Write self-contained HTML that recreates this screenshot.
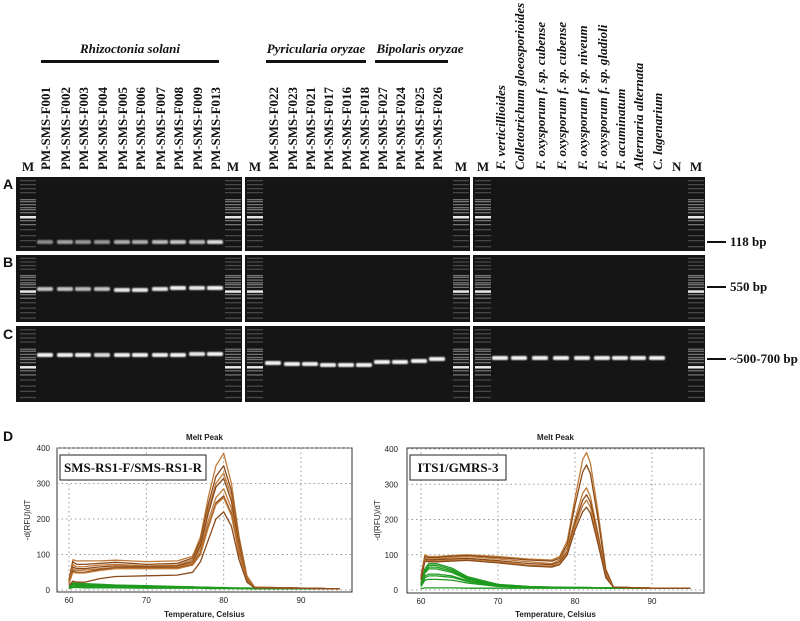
<!DOCTYPE html>
<html><head><meta charset="utf-8"><style>
body{margin:0;background:#fff;width:800px;height:621px;overflow:hidden}
svg{display:block}
.lab{font-family:"Liberation Serif",serif;font-weight:bold;font-size:13px;fill:#111}
.it{font-style:italic}
.row{font-family:"Liberation Sans",sans-serif;font-weight:bold;font-size:14px;fill:#111}
.tk{font-family:"Liberation Sans",sans-serif;font-size:8px;fill:#222}
.tt{font-family:"Liberation Sans",sans-serif;font-size:8px;font-weight:bold;fill:#222}
</style></head><body>
<svg id="fig" width="800" height="621" viewBox="0 0 800 621" xmlns="http://www.w3.org/2000/svg">
<defs><filter id="bl" x="-30%" y="-100%" width="160%" height="300%"><feGaussianBlur stdDeviation="0.7"/></filter></defs>
<g id="gels"></g>
<g id="labels"></g>
<g>
<text class="lab it" x="130" y="53" text-anchor="middle" font-size="14">Rhizoctonia solani</text>
<rect x="41" y="60" width="178" height="3" fill="#111"/>
<text class="lab it" x="316" y="53" text-anchor="middle" font-size="14">Pyricularia oryzae</text>
<rect x="266" y="60" width="100" height="3" fill="#111"/>
<text class="lab it" x="420" y="53" text-anchor="middle" font-size="14">Bipolaris oryzae</text>
<rect x="375" y="60" width="73" height="3" fill="#111"/>
</g>
<g>
<text class="row" x="3" y="189">A</text><text class="row" x="3" y="267">B</text><text class="row" x="3" y="339">C</text><text class="row" x="3" y="441">D</text>
</g>
<g>
<rect x="707" y="241" width="19" height="2" fill="#111"/><text class="lab" x="730" y="246">118 bp</text>
<rect x="707" y="286" width="19" height="2" fill="#111"/><text class="lab" x="730" y="291">550 bp</text>
<rect x="707" y="358" width="19" height="2" fill="#111"/><text class="lab" x="730" y="363">~500-700 bp</text>
</g>
<g id="plots"></g>
</svg>
<script>
const NS="http://www.w3.org/2000/svg";
function mk(tag,attrs,parent){const e=document.createElementNS(NS,tag);for(const k in attrs)e.setAttribute(k,attrs[k]);parent.appendChild(e);return e;}
/* ---------- Gel data ---------- */
const panelX=[[16,242],[245,470],[473,705]];
const rowY=[[177,251],[255,322],[326,402]];
const markerLanes=[28,233,255,461,483,696];
const laneNames=["PM-SMS-F001","PM-SMS-F002","PM-SMS-F003","PM-SMS-F004","PM-SMS-F005","PM-SMS-F006","PM-SMS-F007","PM-SMS-F008","PM-SMS-F009","PM-SMS-F013","PM-SMS-F022","PM-SMS-F023","PM-SMS-F021","PM-SMS-F017","PM-SMS-F016","PM-SMS-F018","PM-SMS-F027","PM-SMS-F024","PM-SMS-F025","PM-SMS-F026","F. verticillioides","Colletotrichum gloeosporioides","F. oxysporum f. sp. cubense","F. oxysporum f. sp. cubense","F. oxysporum f. sp. niveum","F. oxysporum f. sp. gladioli","F. acuminatum","Alternaria alternata","C. lagenarium","N"];
const laneX=[45,65,83,102,122,140,160,178,197,215,273,292,310,328,346,364,382,400,419,437,500,519,540,561,582,602,620,638,657,677];
const bandA=[0.5,0.6,0.55,0.55,0.65,0.65,0.7,0.75,0.7,0.85,0,0,0,0,0,0,0,0,0,0,0,0,0,0,0,0,0,0,0,0];
const bandB=[0.75,0.75,0.7,0.75,0.9,0.9,0.9,0.95,0.9,0.95,0,0,0,0,0,0,0,0,0,0,0,0,0,0,0,0,0,0,0,0];
const bandC=[0.95,0.95,0.95,0.85,0.95,0.95,0.95,0.95,0.9,0.95,0.95,0.95,0.95,0.95,0.95,0.95,0.95,0.95,0.95,0.95,0.95,0.95,0.95,0.95,0.95,0.95,0.95,0.95,0.95,0];
const yA=[242,242,242,242,242,242,242,242,242,242];
const yB=[289,289,289,289,290,290,289,288,288,288];
const yC=[355,355,355,355,355,355,355,355,354,354,363,364,364,365,365,365,362,362,361,359,358,358,358,358,358,358,358,358,358,358];
const ladderOff=[3,7,11,15,22,24,27,30,32,35,39,43,47,52,58,63,69];
const G=document.getElementById('gels');
rowY.forEach((r,ri)=>{panelX.forEach((p,pi)=>{
  const rc=mk('rect',{x:p[0],y:r[0],width:p[1]-p[0],height:r[1]-r[0],fill:'#151515'},G);
  
  
});
  markerLanes.forEach(mx=>{ladderOff.forEach((o,i)=>{
    const b=mk('rect',{x:mx-8,y:r[0]+o*(r[1]-r[0])/74,width:16,height:i==10?2.5:1.3,fill:'#fff',opacity:i==10?0.9:(i>=4&&i<=12?0.4:0.22)},G);
    
    
  });});
});
function bands(arr,ys,ri){arr.forEach((v,i)=>{if(!v)return;
  const b=mk('rect',{x:laneX[i]-8,y:ys[i]-2,width:16,height:4,rx:1.5,fill:'#fff',opacity:v,filter:'url(#bl)'},G);
  
  });}
bands(bandA,yA,'a');bands(bandB,yB,'b');bands(bandC,yC,'c');
const L=document.getElementById('labels');
laneNames.forEach((n,i)=>{
  const it=i>=20&&n!=="N";
  const t=mk('text',{class:'lab'+(it?' it':''),transform:`translate(${laneX[i]+5},170) rotate(-90)`},L);
  if(n==="N"){t.setAttribute('transform',`translate(${laneX[i]-5},171)`);}
  t.textContent=n;
  
  
});
markerLanes.forEach(mx=>{const t=mk('text',{class:'lab',x:mx,y:171,'text-anchor':'middle'},L);t.textContent='M';
  
  });
/* ---------- Melt curve data ---------- */
const xTicks=[60,70,80,90];
const yTicks=[0,100,200,300,400];
const T1=[60,60.5,61,62,64,66,70,74,76,77,78,79,80,81,82,83,84,90,95];
const brown1=[
[30,85,82,82,82,84,80,82,95,150,260,350,385,300,150,40,8,5,3],
[28,80,72,72,75,78,72,75,90,140,240,320,350,280,140,35,8,5,3],
[25,72,65,66,70,72,68,70,85,130,225,300,330,265,130,35,8,5,3],
[22,65,60,60,65,68,65,68,80,125,215,290,315,250,125,30,7,5,3],
[20,60,55,56,60,64,63,65,76,115,195,260,285,230,115,30,7,5,3],
[18,55,50,50,58,62,62,62,72,105,180,245,265,215,105,28,7,5,3],
[18,50,48,48,55,60,60,60,70,100,175,240,260,210,100,25,7,5,3],
[12,25,22,22,32,38,40,42,50,80,140,200,220,180,85,22,6,5,3]];
const green1=[
[12,20,19,18,16,14,12,10,9,8,8,7,7,6,6,6,5,4,3],
[10,17,16,15,14,12,10,9,8,7,7,6,6,6,5,5,4,4,3],
[8,14,13,12,11,10,9,8,7,7,6,6,5,5,5,5,4,3,3],
[6,10,10,9,9,8,7,6,6,6,5,5,5,5,4,4,4,3,3],
[4,7,7,6,6,6,5,5,5,5,4,4,4,4,4,4,3,3,3]];
const T2=[60,60.5,61,62,64,66,70,74,77,78,79,80,81,81.5,82,83,84,85,90,95];
const brown2=[
[40,100,95,95,98,100,95,88,85,95,140,260,370,390,360,220,60,8,5,5],
[38,95,92,92,96,98,92,85,82,90,130,240,335,355,330,200,55,8,5,5],
[35,90,88,88,92,95,88,80,75,85,120,200,275,290,265,160,45,8,5,5],
[33,88,85,86,88,90,83,75,72,80,110,190,255,270,250,150,40,8,5,5],
[30,85,82,82,85,86,80,70,68,75,105,180,240,255,235,140,38,8,5,5],
[28,82,80,80,82,84,77,68,65,72,100,170,222,235,218,130,35,8,5,5]];
const green2=[
[20,60,75,75,62,38,16,10,8,8,7,7,7,7,7,6,6,6,5,5],
[20,58,70,70,58,35,15,10,8,8,7,7,7,7,7,6,6,6,5,5],
[18,52,65,65,54,32,14,9,8,7,7,7,7,7,6,6,6,6,5,5],
[16,48,60,60,50,30,13,9,7,7,7,7,7,6,6,6,6,6,5,5],
[14,40,45,45,40,26,12,8,7,7,7,6,6,6,6,6,6,6,5,5],
[12,35,40,40,36,24,11,8,7,7,6,6,6,6,6,6,6,5,5,5],
[10,28,30,30,28,20,10,8,7,6,6,6,6,6,6,6,5,5,5,5],
[4,6,6,6,6,5,5,5,5,5,5,5,5,5,5,5,5,5,5,5]];
const plots=[
 {box:[57,448,352,592],x0:69,x1:301,y0:590,y1:448,T:T1,brown:brown1,green:green1,label:'SMS-RS1-F/SMS-RS1-R',lw:146,ytx:50,name:'melt-plot-sms-rs1'},
 {box:[407,448,704,593],x0:421,x1:652,y0:590,y1:449,T:T2,brown:brown2,green:green2,label:'ITS1/GMRS-3',lw:96,ytx:398,name:'melt-plot-its1'}];
const P=document.getElementById('plots');
plots.forEach(p=>{
  const g=mk('g',{},P);
  
  
  const xs=t=>p.x0+(t-60)/30*(p.x1-p.x0);
  const ys=v=>p.y0-v/400*(p.y0-p.y1);
  const [bx0,by0,bx1,by1]=p.box;
  mk('rect',{x:bx0,y:by0,width:bx1-bx0,height:by1-by0,fill:'#fff',stroke:'#333','stroke-width':1},g);
  xTicks.forEach(t=>{mk('line',{x1:xs(t),x2:xs(t),y1:by0,y2:by1,stroke:'#999','stroke-dasharray':'1.5,3'},g);
    const tx=mk('text',{class:'tk',x:xs(t),y:by1+11,'text-anchor':'middle'},g);tx.textContent=t;
    
    });
  yTicks.forEach(v=>{mk('line',{x1:bx0,x2:bx1,y1:ys(v),y2:ys(v),stroke:'#999','stroke-dasharray':'1.5,3'},g);
    const tx=mk('text',{class:'tk',x:p.ytx,y:ys(v)+3,'text-anchor':'end'},g);tx.textContent=v;
    
    });
  const tt=mk('text',{class:'tt',x:(bx0+bx1)/2,y:440,'text-anchor':'middle'},g);tt.textContent='Melt Peak';
  
  
  const xt=mk('text',{class:'tt',x:(bx0+bx1)/2,y:617,'text-anchor':'middle'},g);xt.textContent='Temperature, Celsius';
  
  
  const yt=mk('text',{class:'tk',transform:`translate(${bx0-27},${(by0+by1)/2}) rotate(-90)`,'text-anchor':'middle','font-size':'6.5'},g);yt.textContent='-d(RFU)/dT';
  
  
  const path=arr=>arr.map((v,i)=>(i?'L':'M')+xs(p.T[i]).toFixed(1)+','+ys(v).toFixed(1)).join('');
  p.green.forEach(c=>{const l=mk('path',{d:path(c),fill:'none',stroke:'#1f9a1f','stroke-width':1.3,'stroke-linejoin':'round'},g);
    
    });
  p.brown.forEach((c,i)=>{const l=mk('path',{d:path(c),fill:'none',stroke:i%2?'#8a4a1a':'#c07a38','stroke-width':1.3,'stroke-linejoin':'round'},g);
    
    });
  mk('rect',{x:bx0+3,y:455,width:p.lw,height:25,fill:'#fff',stroke:'#222','stroke-width':1},g);
  const lb=mk('text',{class:'lab',x:bx0+3+p.lw/2,y:472,'text-anchor':'middle'},g);lb.textContent=p.label;
  
  
});
</script>
</body></html>
